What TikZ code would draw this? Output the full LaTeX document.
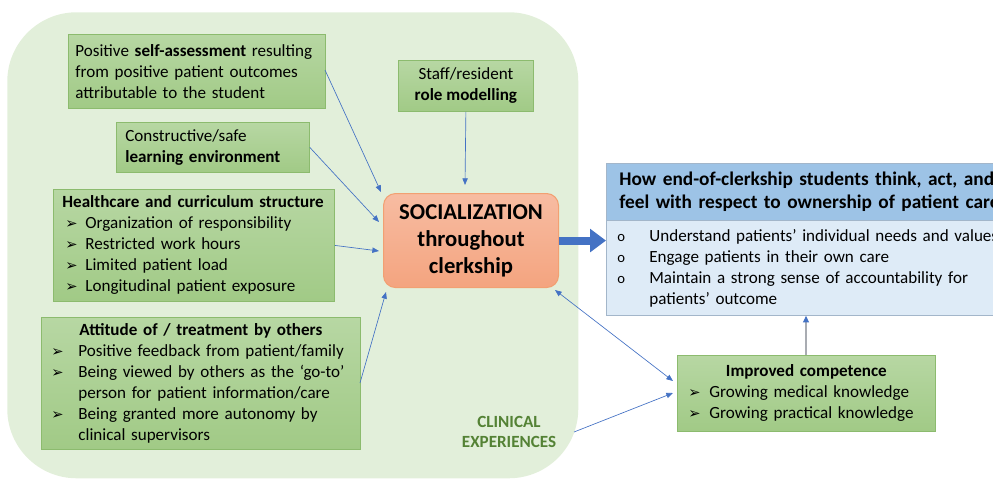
\documentclass[tikz,border=0pt]{standalone}
\usepackage{fontspec}
\setmainfont{Carlito}
\newfontfamily\dejavu{DejaVu Sans}
\usetikzlibrary{arrows.meta,calc}
\definecolor{bggreen}{HTML}{E2EFDA}
\definecolor{gtop}{HTML}{B7D7A3}
\definecolor{gbot}{HTML}{A1CA86}
\definecolor{gborder}{HTML}{8CBB6E}
\definecolor{otop}{HTML}{F7BCA2}
\definecolor{obot}{HTML}{F4A47F}
\definecolor{oborder}{HTML}{F2A072}
\definecolor{bhead}{HTML}{9DC3E6}
\definecolor{bbody}{HTML}{DEEBF7}
\definecolor{bborder}{HTML}{A3B6CA}
\definecolor{ablue}{HTML}{4472C4}
\definecolor{dgreen}{HTML}{548235}
\definecolor{lgray}{HTML}{A9ACB2}
\newcommand\arrb[1]{\makebox[#1][l]{\dejavu\fontsize{11}{11}\selectfont ➢}}
\newcommand\obul{\makebox[24pt][l]{\fontsize{11}{11}\selectfont o}}
\begin{document}
\begin{tikzpicture}[x=0.75pt,y=-0.75pt,
  every node/.style={font=\fontsize{12.8}{15.75}\selectfont},
  gbox/.style={draw=gborder, top color=gtop, bottom color=gbot, line width=0.6pt, inner sep=0pt, anchor=north west, align=left},
  arr/.style={draw=ablue, line width=0.5pt, -{Triangle[length=5pt,width=4pt]}},
  darr/.style={draw=ablue, line width=0.5pt, {Triangle[length=5pt,width=4pt]}-{Triangle[length=5pt,width=4pt]}},
]
\useasboundingbox (0,0) rectangle (993,482);
\clip (0,0) rectangle (993,482);
% background region
\node[fill=bggreen, rounded corners=52pt, anchor=north west, minimum width=571*0.75pt, minimum height=466*0.75pt, inner sep=0pt] (clin) at (7,12) {};
\node[font=\bfseries\fontsize{12.8}{15}\selectfont, text=dgreen, align=center] (clintext) at (509,432) {CLINICAL\\EXPERIENCES};

% green boxes
\node[gbox, minimum width=257*0.75pt, minimum height=74*0.75pt, text width=243*0.75pt] (selfa) at (68,34)
 {Positive \textbf{self-assessment} resulting\\from positive patient outcomes\\attributable to the student};
\node[gbox, align=center, minimum width=135*0.75pt, minimum height=51*0.75pt] (staff) at (398,60)
 {Staff/resident\\\textbf{role modelling}};
\node[gbox, minimum width=193*0.75pt, minimum height=50*0.75pt, text width=175*0.75pt] (cons) at (116,122)
 {Constructive/safe\\\textbf{learning environment}};
\node[gbox, minimum width=281*0.75pt, minimum height=112*0.75pt, text width=263*0.75pt] (hc) at (53,189)
 {\textbf{Healthcare and curriculum structure}\\
  \hspace*{2.25pt}\arrb{15pt}Organization of responsibility\\
  \hspace*{2.25pt}\arrb{15pt}Restricted work hours\\
  \hspace*{2.25pt}\arrb{15pt}Limited patient load\\
  \hspace*{2.25pt}\arrb{15pt}Longitudinal patient exposure};
\node[gbox, minimum width=319*0.75pt, minimum height=132*0.75pt, text width=299*0.75pt] (att) at (41,317)
 {\makebox[224.25pt]{\textbf{Attitude of / treatment by others}}\\
  \arrb{20.25pt}Positive feedback from patient/family\\
  \arrb{20.25pt}Being viewed by others as the ‘go-to’\\
  \hspace*{20.25pt}person for patient information/care\\
  \arrb{20.25pt}Being granted more autonomy by\\
  \hspace*{20.25pt}clinical supervisors};
\node[gbox, minimum width=258*0.75pt, minimum height=76*0.75pt, text width=236*0.75pt] (comp) at (677,355)
 {\makebox[177pt]{\textbf{Improved competence}}\\
  \arrb{15.75pt}Growing medical knowledge\\
  \arrb{15.75pt}Growing practical knowledge};

% socialization
\node[draw=oborder, top color=otop, bottom color=obot, line width=0.8pt, rounded corners=9pt, anchor=north west,
  minimum width=175*0.75pt, minimum height=94*0.75pt, inner sep=0pt, align=center,
  font=\bfseries\fontsize{17}{20.25}\selectfont] (soc) at (383,193)
 {SOCIALIZATION\\throughout\\clerkship};

% blue outcome box
\node[draw=bborder, fill=bhead, line width=0.6pt, anchor=north west, minimum width=480*0.75pt, minimum height=57*0.75pt,
  inner sep=0pt, text width=454*0.75pt, align=left, font=\bfseries\fontsize{14.5}{17.25}\selectfont] (head) at (606,163)
 {How end-of-clerkship students think, act, and\\feel with respect to ownership of patient care};
\node[draw=bborder, fill=bbody, line width=0.6pt, anchor=north west, minimum width=480*0.75pt, minimum height=95*0.75pt,
  inner sep=0pt, text width=458*0.75pt, align=left] (body) at (606,220)
 {\obul Understand patients’ individual needs and values\\
  \obul Engage patients in their own care\\
  \obul Maintain a strong sense of accountability for\\
  \hspace*{24pt}patients’ outcome};

% connector end points
\coordinate (e1) at (381,192);
\coordinate (e2) at (465,185);
\coordinate (e3) at (379,222);
\coordinate (e4) at (379,251);
\coordinate (e5) at (386,292);
\coordinate (s5) at (360,383);
\coordinate (s1) at (325,70);
\coordinate (d1) at (555,290);
\coordinate (d2) at (673,381);
\coordinate (c1) at (574,432);
\coordinate (c2) at (673,393);

\draw[arr] (s1) -- (e1);
\draw[arr] (staff.south) -- (e2);
\draw[arr] (cons.east) -- (e3);
\draw[arr] (hc.east) -- (e4);
\draw[arr] (s5) -- (e5);
\draw[darr] (d1) -- (d2);
\draw[arr] (c1) -- (c2);
\draw[draw=lgray, line width=0.8pt, -{Triangle[length=5pt,width=4.5pt,color=ablue]}] (comp.north -| 806,0) -- (body.south -| 806,0);

% big arrow
\draw[draw=ablue, line width=6pt, -{Triangle[length=12pt,width=17pt]}] (soc.east) -- (head.west |- soc.east);
\end{tikzpicture}
\end{document}
